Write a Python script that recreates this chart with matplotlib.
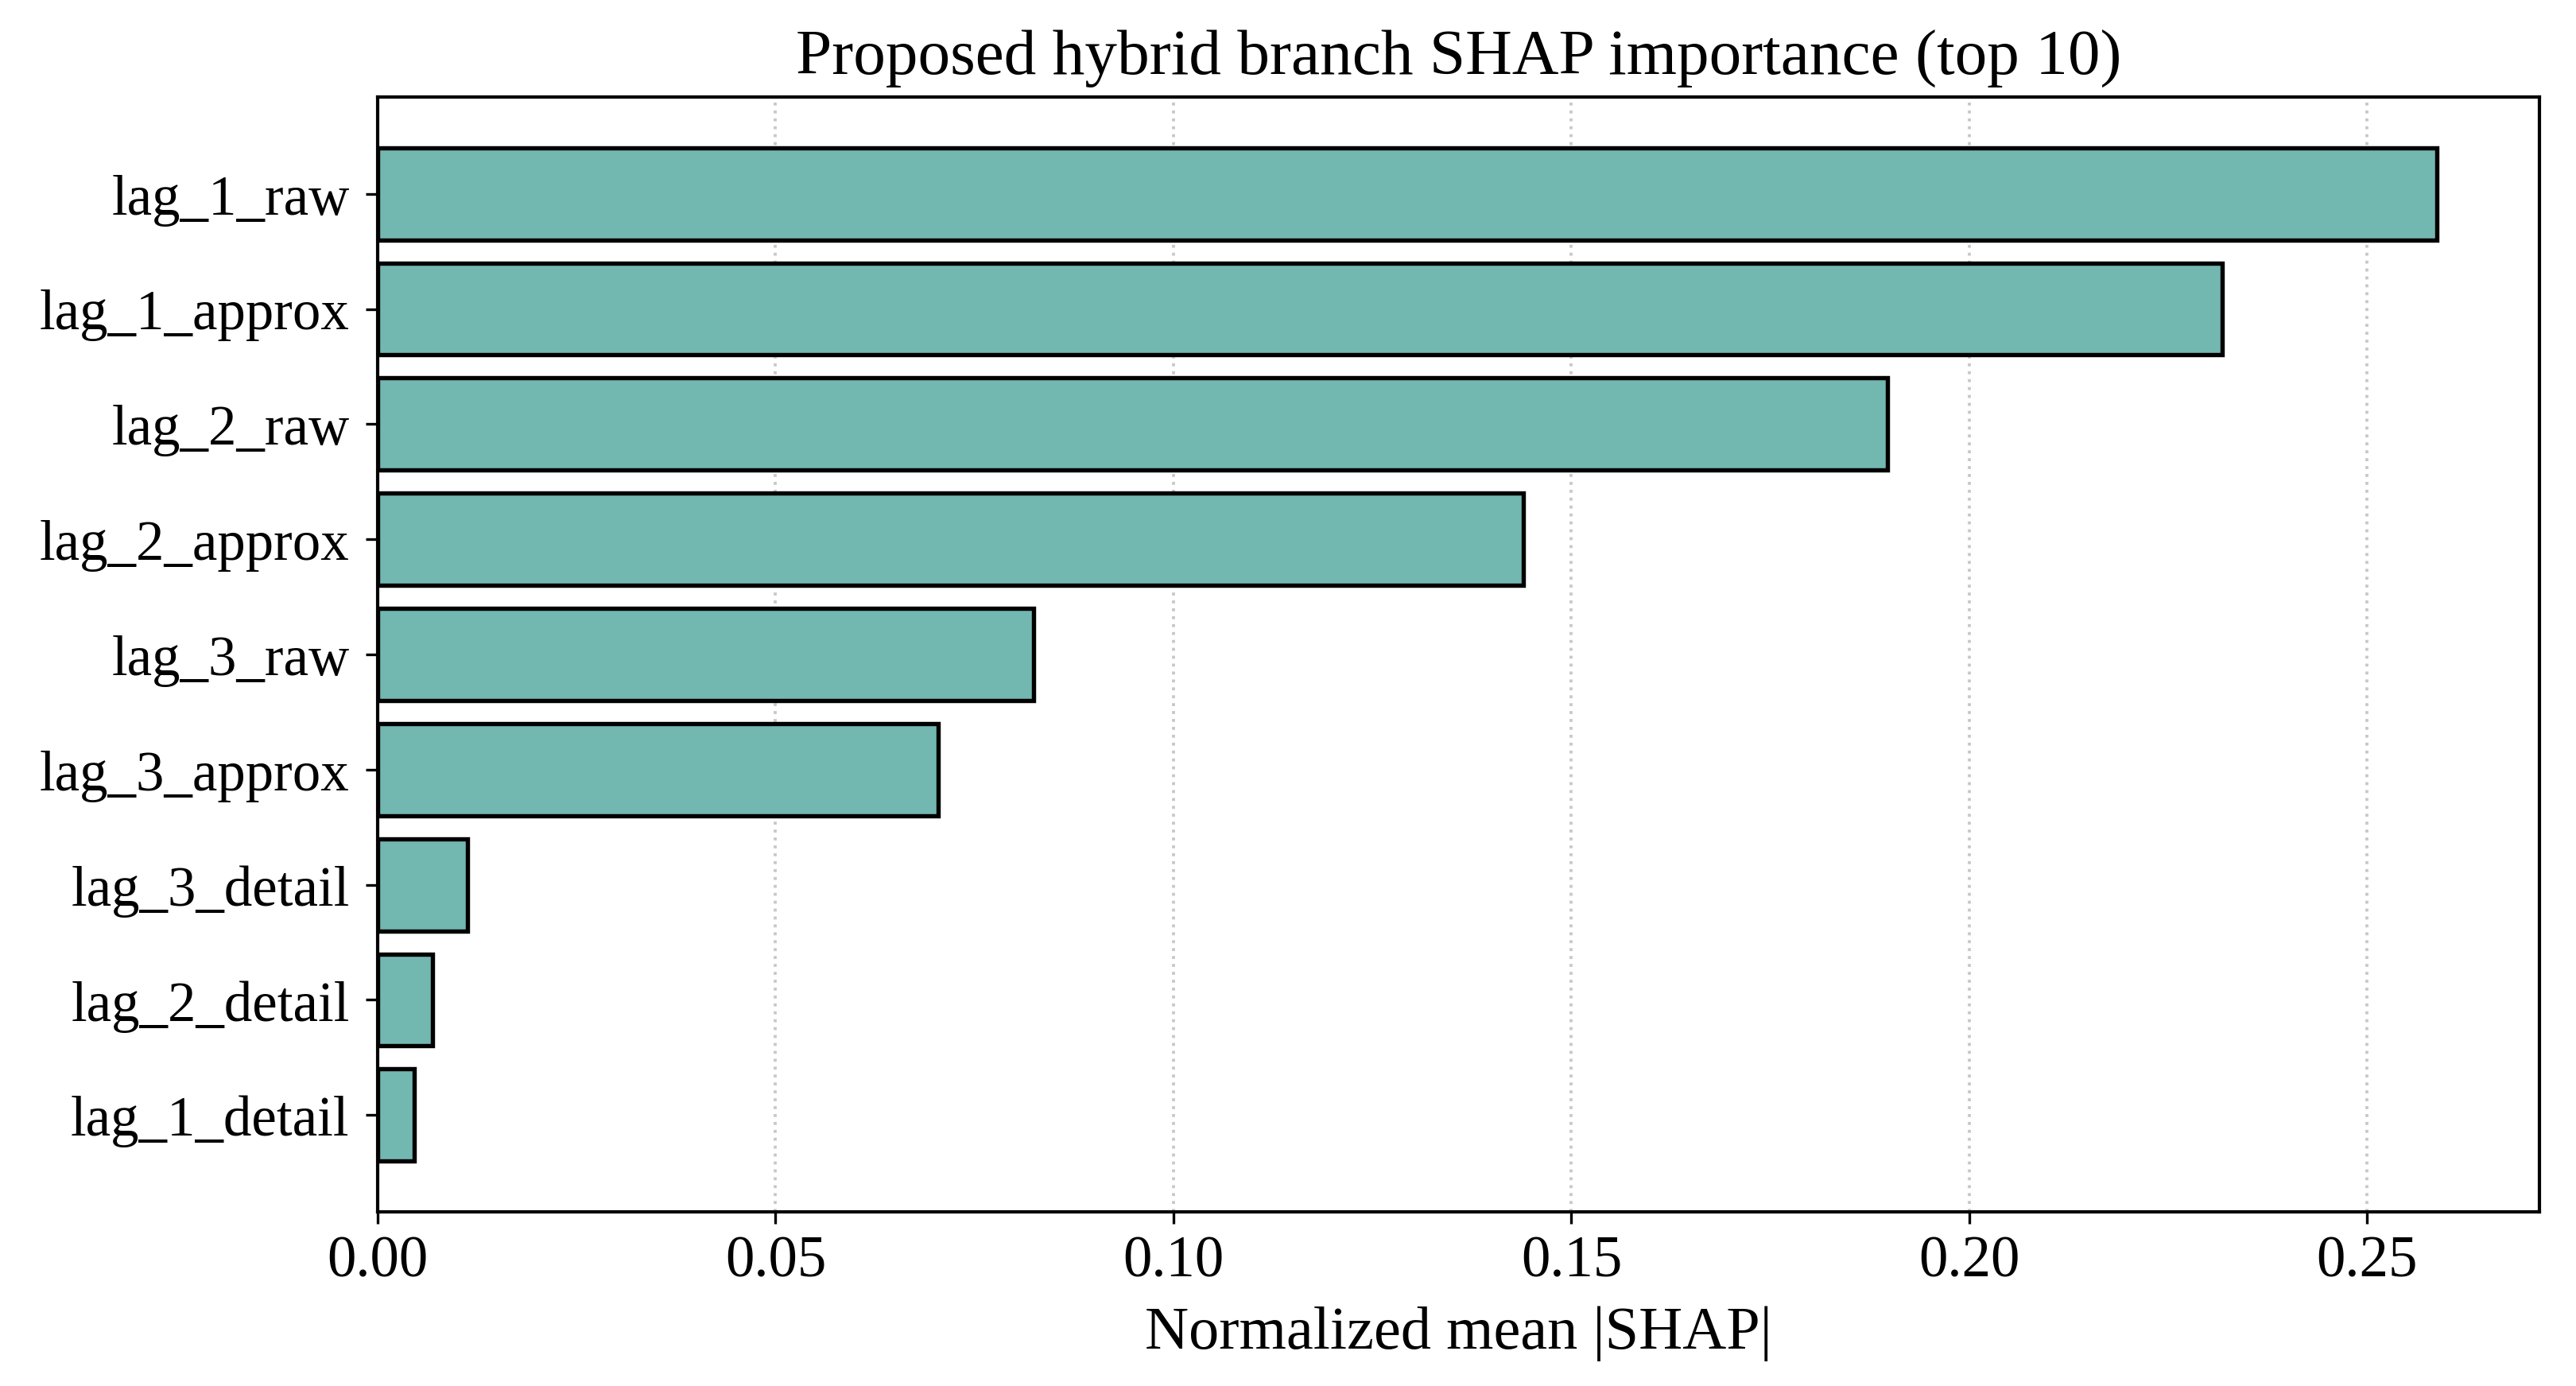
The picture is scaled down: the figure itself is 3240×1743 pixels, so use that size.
import matplotlib
matplotlib.use("Agg")
import matplotlib.pyplot as plt
import numpy as np

features = [
    "lag_1_raw",
    "lag_1_approx",
    "lag_2_raw",
    "lag_2_approx",
    "lag_3_raw",
    "lag_3_approx",
    "lag_3_detail",
    "lag_2_detail",
    "lag_1_detail",
]
importance = [0.2587, 0.2318, 0.1897, 0.1440, 0.0824, 0.0704, 0.0113, 0.0069, 0.0046]

plt.rcParams["font.family"] = ["Liberation Serif", "DejaVu Serif"]
plt.rcParams["font.size"] = 17

fig, ax = plt.subplots(figsize=(10.8, 5.813), dpi=300)
fig.subplots_adjust(left=0.1466, right=0.9858, top=0.9295, bottom=0.1256)

y = np.arange(len(features))[::-1]
ax.barh(y, importance, height=0.8, color="#73b7b1", edgecolor="black", linewidth=1.3, zorder=2)
ax.set_yticks(y)
ax.set_yticklabels(features, fontsize=17)
ax.tick_params(axis="y", pad=5)
ax.tick_params(axis="x", labelsize=17.5)
ax.set_xlabel("Normalized mean |SHAP|", fontsize=18.3, labelpad=5)
ax.set_title("Proposed hybrid branch SHAP importance (top 10)", fontsize=19.5, pad=7)
ax.grid(axis="x", linestyle=":", color="#c8c8c8", linewidth=0.9, zorder=0)
ax.set_axisbelow(True)
for s in ax.spines.values():
    s.set_linewidth(1.0)

fig.savefig("out.png", dpi=300)
